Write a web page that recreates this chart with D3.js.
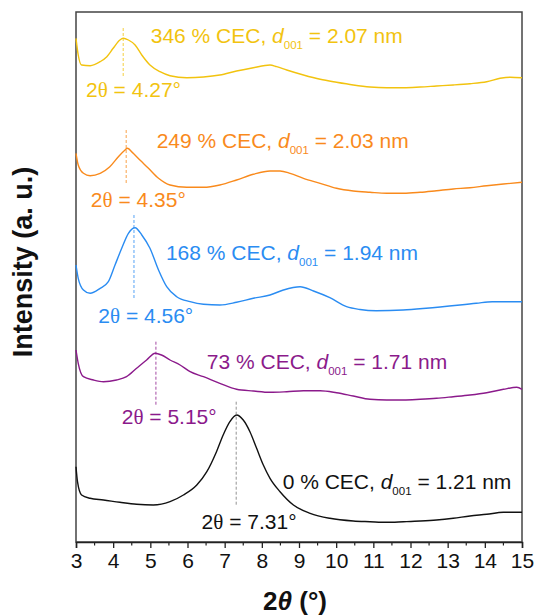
<!DOCTYPE html>
<html><head><meta charset="utf-8">
<script src="https://cdn.jsdelivr.net/npm/d3@7"></script>
<style>
body{margin:0;background:#fff}
text{font-family:Arial,"Liberation Sans",sans-serif}
</style></head>
<body><svg id="c" width="536" height="615"></svg>
<script>
// ---- data ----
const xTicks = [3,4,5,6,7,8,9,10,11,12,13,14,15];
const loadings = ["346","249","168","73","0"];
const d001 = ["2.07","2.03","1.94","1.71","1.21"];
const peaks = [4.27,4.35,4.56,5.15,7.31];
const colors = ["#F2C30F","#F98A1C","#2A8CF2","#8B1A8B","#111111"];

const cec346 = [[3.0,503.7],[3.06,487],[3.15,477],[3.38,476.3],[3.65,480.3],[3.83,485.3],[4.0,493.7],[4.18,502],[4.27,503.7],[4.41,502],[4.59,497],[4.77,487],[4.99,477],[5.26,470.3],[5.53,466.3],[5.98,464.3],[6.43,465],[6.87,467],[7.32,471],[7.77,474.3],[8.22,477],[8.4,475.3],[8.67,472],[9.12,467],[9.57,462.7],[10.01,459.7],[10.46,457],[10.91,455],[11.36,454.3],[11.81,454.3],[12.26,455],[12.7,456],[13.15,457],[13.6,458.3],[14.05,460.3],[14.41,463.7],[14.68,464.8],[15,464.3]];
const cec249 = [[3.0,388.7],[3.06,377],[3.2,368.7],[3.38,366.3],[3.65,368.7],[3.91,375.3],[4.14,385.3],[4.32,392],[4.38,393.7],[4.54,388.7],[4.72,382],[4.95,373.7],[5.22,363.7],[5.53,357],[5.98,354.7],[6.43,354.7],[6.87,357],[7.32,362],[7.77,367.7],[8.22,371],[8.49,371],[8.76,368.7],[9.12,363.7],[9.57,358.7],[10.01,353.7],[10.46,351],[10.91,349.7],[11.36,348.7],[11.81,348.7],[12.26,349.7],[12.7,351.3],[13.15,353],[13.6,354.3],[14.05,356.3],[14.5,358],[15,359.7]];
const cec168 = [[3.0,277],[3.06,263.7],[3.2,252],[3.38,248.7],[3.65,253.7],[3.87,260.3],[4.05,277],[4.23,293.7],[4.41,308.7],[4.59,314.3],[4.77,307],[4.99,293.7],[5.22,272],[5.44,255.3],[5.71,245.3],[6.07,240.3],[6.43,237.7],[6.87,237],[7.32,239.7],[7.77,243.7],[8.22,247],[8.58,252],[9.03,255.3],[9.39,251],[9.83,244.3],[10.28,235.3],[10.64,232.5],[11.08,231.3],[11.8,232],[12.42,233.7],[13.77,238.7],[14.2,240.3],[15,240.3]];
const cec73 = [[3.0,192],[3.06,178.7],[3.2,165.3],[3.47,162],[3.74,160.3],[4.09,162],[4.36,165.3],[4.63,173.7],[4.9,182],[5.13,188.7],[5.3,187],[5.53,182],[5.8,177],[6.07,170.3],[6.43,165.3],[6.87,158.7],[7.32,152.7],[7.77,151],[8.22,149.7],[8.67,150.3],[9.12,151.3],[9.57,151.3],[10.01,149.3],[10.46,146],[10.91,142.7],[11.36,142],[11.81,142],[12.26,142.7],[12.7,143.7],[13.15,145.3],[13.6,147],[14.05,149.3],[14.5,152.7],[14.86,154.7],[15,152.7]];
const cec0 = [[3.0,75.3],[3.04,60.3],[3.15,47],[3.38,43.7],[3.74,42],[4.18,39.7],[4.63,37.7],[5.08,37],[5.53,40.3],[5.89,47],[6.25,57],[6.52,70.3],[6.78,90.3],[6.96,107],[7.14,120.3],[7.32,127],[7.5,122],[7.68,110.3],[7.86,93.7],[8.04,77],[8.22,63.7],[8.49,50.3],[8.85,37],[9.3,28.7],[9.83,23.7],[10.46,21],[10.91,20.3],[11.36,19.7],[11.81,20.3],[12.26,21],[12.7,22],[13.15,23.7],[13.6,26],[14.05,27.7],[14.5,29.7],[15,29.7]];
const allSeries = [cec346, cec249, cec168, cec73, cec0];
// dashed marker extents (intensity, a.u.)
const markTop = [514,412,327,200.3,140.3];
const markBottom = [465,358.7,243.7,137,37];

// ---- layout ----
const W=536,H=615, m={l:76,r:14,t:12,b:73};
const svg=d3.select("#c");
const x=d3.scaleLinear().domain([3,15]).range([m.l,W-m.r]);
const y=d3.scaleLinear().domain([0,530]).range([H-m.b,m.t]);

// frame
svg.append("rect").attr("x",m.l).attr("y",m.t).attr("width",W-m.l-m.r).attr("height",H-m.t-m.b)
  .attr("fill","none").attr("stroke","#444").attr("stroke-width",1.5);

// bottom axis
const ax=svg.append("g").attr("transform",`translate(0,${H-m.b})`)
  .call(d3.axisBottom(x).tickValues(xTicks).tickFormat(d3.format("d")).tickSize(6).tickPadding(5));
ax.select(".domain").attr("stroke","#222").attr("stroke-width",1.5);
ax.selectAll(".tick line").attr("stroke","#222").attr("stroke-width",1.3);
ax.selectAll(".tick text").attr("font-size",21).attr("fill","#111").attr("font-family","Arial, 'Liberation Sans', sans-serif");
const minor = d3.range(3.5,15,1);
svg.append("g").selectAll("line").data(minor).join("line")
  .attr("x1",d=>x(d)).attr("x2",d=>x(d)).attr("y1",H-m.b).attr("y2",H-m.b+3.5)
  .attr("stroke","#222").attr("stroke-width",1.2);

// curves
const line=d3.line().x(d=>x(d[0])).y(d=>y(d[1])).curve(d3.curveMonotoneX);
allSeries.forEach((s,i)=>{
  svg.append("path").datum(s).attr("d",line).attr("fill","none")
    .attr("stroke",colors[i]).attr("stroke-width",1.4).attr("stroke-linejoin","round");
  svg.append("line").attr("x1",x(peaks[i])).attr("x2",x(peaks[i]))
    .attr("y1",y(markTop[i])).attr("y2",y(markBottom[i]))
    .attr("stroke",i===4?"#777":colors[i]).attr("stroke-width",0.8).attr("stroke-dasharray","3,2");
});

// annotations
const cecPos = [[5.01,498.7],[5.17,393.7],[5.42,282],[6.52,172.7],[8.56,52.7]];
const thPos = [[3.27,444.7],[3.40,334.7],[3.60,219],[4.23,118],[6.38,12.7]];
allSeries.forEach((s,i)=>{
  const t=svg.append("text").attr("x",x(cecPos[i][0])).attr("y",y(cecPos[i][1]))
    .attr("font-size",21).attr("fill",colors[i]);
  t.append("tspan").text(`${loadings[i]} % CEC, `);
  t.append("tspan").attr("font-style","italic").text("d");
  t.append("tspan").attr("font-size",11.5).attr("dy",6).text("001");
  t.append("tspan").attr("dy",-6).text(` = ${d001[i]} nm`);
  const u=svg.append("text").attr("x",x(thPos[i][0])).attr("y",y(thPos[i][1]))
    .attr("font-size",21).attr("fill",colors[i]);
  u.append("tspan").text("2");
  u.append("tspan").attr("font-family","'Liberation Serif','Times New Roman',serif").text("θ");
  u.append("tspan").text(` = ${peaks[i].toFixed(2)}°`);
});

// axis titles
const xt=svg.append("text").attr("x",(m.l+W-m.r)/2-4).attr("y",610).attr("text-anchor","middle")
  .attr("font-size",26).attr("font-weight","bold").attr("fill","#111");
xt.append("tspan").text("2");
xt.append("tspan").attr("font-style","italic").text("θ");
xt.append("tspan").text(" (°)");
svg.append("text").attr("transform",`translate(32,262) rotate(-90)`).attr("text-anchor","middle")
  .attr("font-size",27).attr("font-weight","bold").attr("fill","#111").text("Intensity (a. u.)");
</script></body></html>
